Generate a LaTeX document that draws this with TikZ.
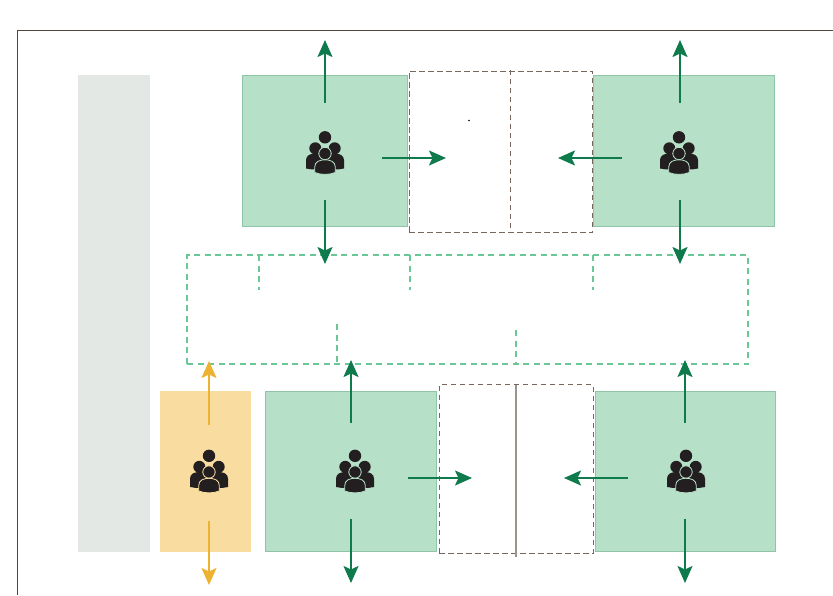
\documentclass[tikz,border=0pt]{standalone}
\usetikzlibrary{arrows.meta}
\definecolor{greenfill}{HTML}{B6E1C8}
\definecolor{greenedge}{HTML}{8FC4A6}
\definecolor{greenarrow}{HTML}{0F7A4C}
\definecolor{greendash}{HTML}{6CC796}
\definecolor{yellowfill}{HTML}{F9DCA0}
\definecolor{yellowarrow}{HTML}{EEB233}
\definecolor{grayfill}{HTML}{E3E8E5}
\definecolor{framebrown}{HTML}{54453B}
\definecolor{dashbrown}{HTML}{75675E}
\definecolor{solidgray}{HTML}{9B958E}
\definecolor{iconblack}{HTML}{231F20}
\tikzset{
  panel/.style={draw=none,inner sep=0pt,outer sep=0pt,anchor=north west},
  greenpanel/.style={panel,fill=greenfill,draw=greenedge,line width=0.8pt},
  arrowline/.style={line width=2pt,-{Stealth[length=17pt,width=15pt,inset=3.5pt]}},
  greenarrowline/.style={arrowline,draw=greenarrow,color=greenarrow},
  yellowarrowline/.style={arrowline,draw=yellowarrow,color=yellowarrow},
  branddash/.style={draw=dashbrown,line width=1pt,dash pattern=on 5.5pt off 3.5pt},
  greendashline/.style={draw=greendash,line width=1.7pt,dash pattern=on 6pt off 4.5pt},
  pics/people/.style={code={
    \fill[iconblack] (0,-15.7) circle (6.2);
    \fill[iconblack] (-9.7,-4.7) circle (6);
    \fill[iconblack] (9.7,-4.7) circle (6);
    \fill[iconblack] (-19,15.5) -- (-19,7) .. controls (-19,2) and (-14,0.5) .. (-9.5,0.5)
       .. controls (-5,0.5) and (0,2) .. (0,7) -- (0,14) .. controls (-6,16.5) and (-13,17) .. (-19,15.5) -- cycle;
    \fill[iconblack] (19,15.5) -- (19,7) .. controls (19,2) and (14,0.5) .. (9.5,0.5)
       .. controls (5,0.5) and (0,2) .. (0,7) -- (0,14) .. controls (6,16.5) and (13,17) .. (19,15.5) -- cycle;
    \filldraw[iconblack,draw=#1,line width=0.8pt] (0,0.5) circle (6.2);
    \filldraw[iconblack,draw=#1,line width=0.8pt] (-10.3,19.5) -- (-10.3,14) .. controls (-10.3,8.5) and (-5,6.8) .. (0,6.8)
       .. controls (5,6.8) and (10.3,8.5) .. (10.3,14) -- (10.3,19.5) .. controls (4,22) and (-4,22) .. (-10.3,19.5) -- cycle;
  }},
}
\begin{document}
\begin{tikzpicture}[x=1pt,y=-1pt]
\useasboundingbox (0,0) rectangle (833,595);
% frame
\coordinate (fa) at (17,595);
\coordinate (fb) at (17,30.5);
\coordinate (fc) at (833,30.5);
\draw[framebrown,line width=1pt] (fa) -- (fb) -- (fc);
% panels
\node[panel,fill=grayfill,minimum width=72pt,minimum height=477pt] (side) at (78,75) {};
\node[greenpanel,minimum width=165.5pt,minimum height=151.5pt] (g1) at (242,75) {};
\node[greenpanel,minimum width=181.5pt,minimum height=151.5pt] (g2) at (593,75) {};
\node[panel,fill=yellowfill,minimum width=91pt,minimum height=161pt] (y1) at (160,391) {};
\node[greenpanel,minimum width=171.5pt,minimum height=160.8pt] (g3) at (265,391) {};
\node[greenpanel,minimum width=179.5pt,minimum height=160.8pt] (g4) at (595.5,391) {};
% upper brown dashed box
\node[panel,branddash,minimum width=183.7pt,minimum height=161.5pt] (ub) at (409,71) {};
\coordinate (ubt) at (510,69.5);
\coordinate (ubb) at (510,232.5);
\draw[branddash] (ubt) -- (ubb);
\fill[black] (469,120.5) circle (0.8);
% lower brown dashed box
\node[panel,branddash,minimum width=153.7pt,minimum height=168.5pt] (lb) at (439.3,384.8) {};
\coordinate (lbt) at (516,384.8);
\coordinate (lbb) at (516,557.3);
\draw[solidgray,line width=1.8pt] (lbt) -- (lbb);
% green dashed box
\node[panel,greendashline,minimum width=561pt,minimum height=109pt] (mid) at (187,255) {};
\foreach \n/\x/\a/\b in {s1/259/255/290,s2/410/255/290,s3/593/255/290,s4/337/324/362,s5/516/330/362}{
  \coordinate (\n a) at (\x,\a);
  \coordinate (\n b) at (\x,\b);
  \draw[greendashline] (\n a) -- (\n b);
}
% icons
\pic at (325,153) {people=greenfill};
\pic at (679,153) {people=greenfill};
\pic at (209,471.5) {people=yellowfill};
\pic at (355,471.5) {people=greenfill};
\pic at (686,471.5) {people=greenfill};
% arrows
\foreach \n/\xa/\ya/\xb/\yb in {
  a1/325/103/325/40, a2/325/200/325/264, a3/382/158/446/158,
  a4/680/103/680/40, a5/680/200/680/264, a6/622/158/558/158,
  a7/351/423/351/360, a8/351/519/351/583, a9/408/478/472/478,
  a10/685/423/685/360, a11/685/519/685/583, a12/628/478/564/478}{
  \coordinate (\n s) at (\xa,\ya);
  \coordinate (\n e) at (\xb,\yb);
  \draw[greenarrowline] (\n s) -- (\n e);
}
\coordinate (y1s) at (209,425);
\coordinate (y1e) at (209,361);
\coordinate (y2s) at (209,521);
\coordinate (y2e) at (209,585);
\draw[yellowarrowline] (y1s) -- (y1e);
\draw[yellowarrowline] (y2s) -- (y2e);
\end{tikzpicture}
\end{document}
